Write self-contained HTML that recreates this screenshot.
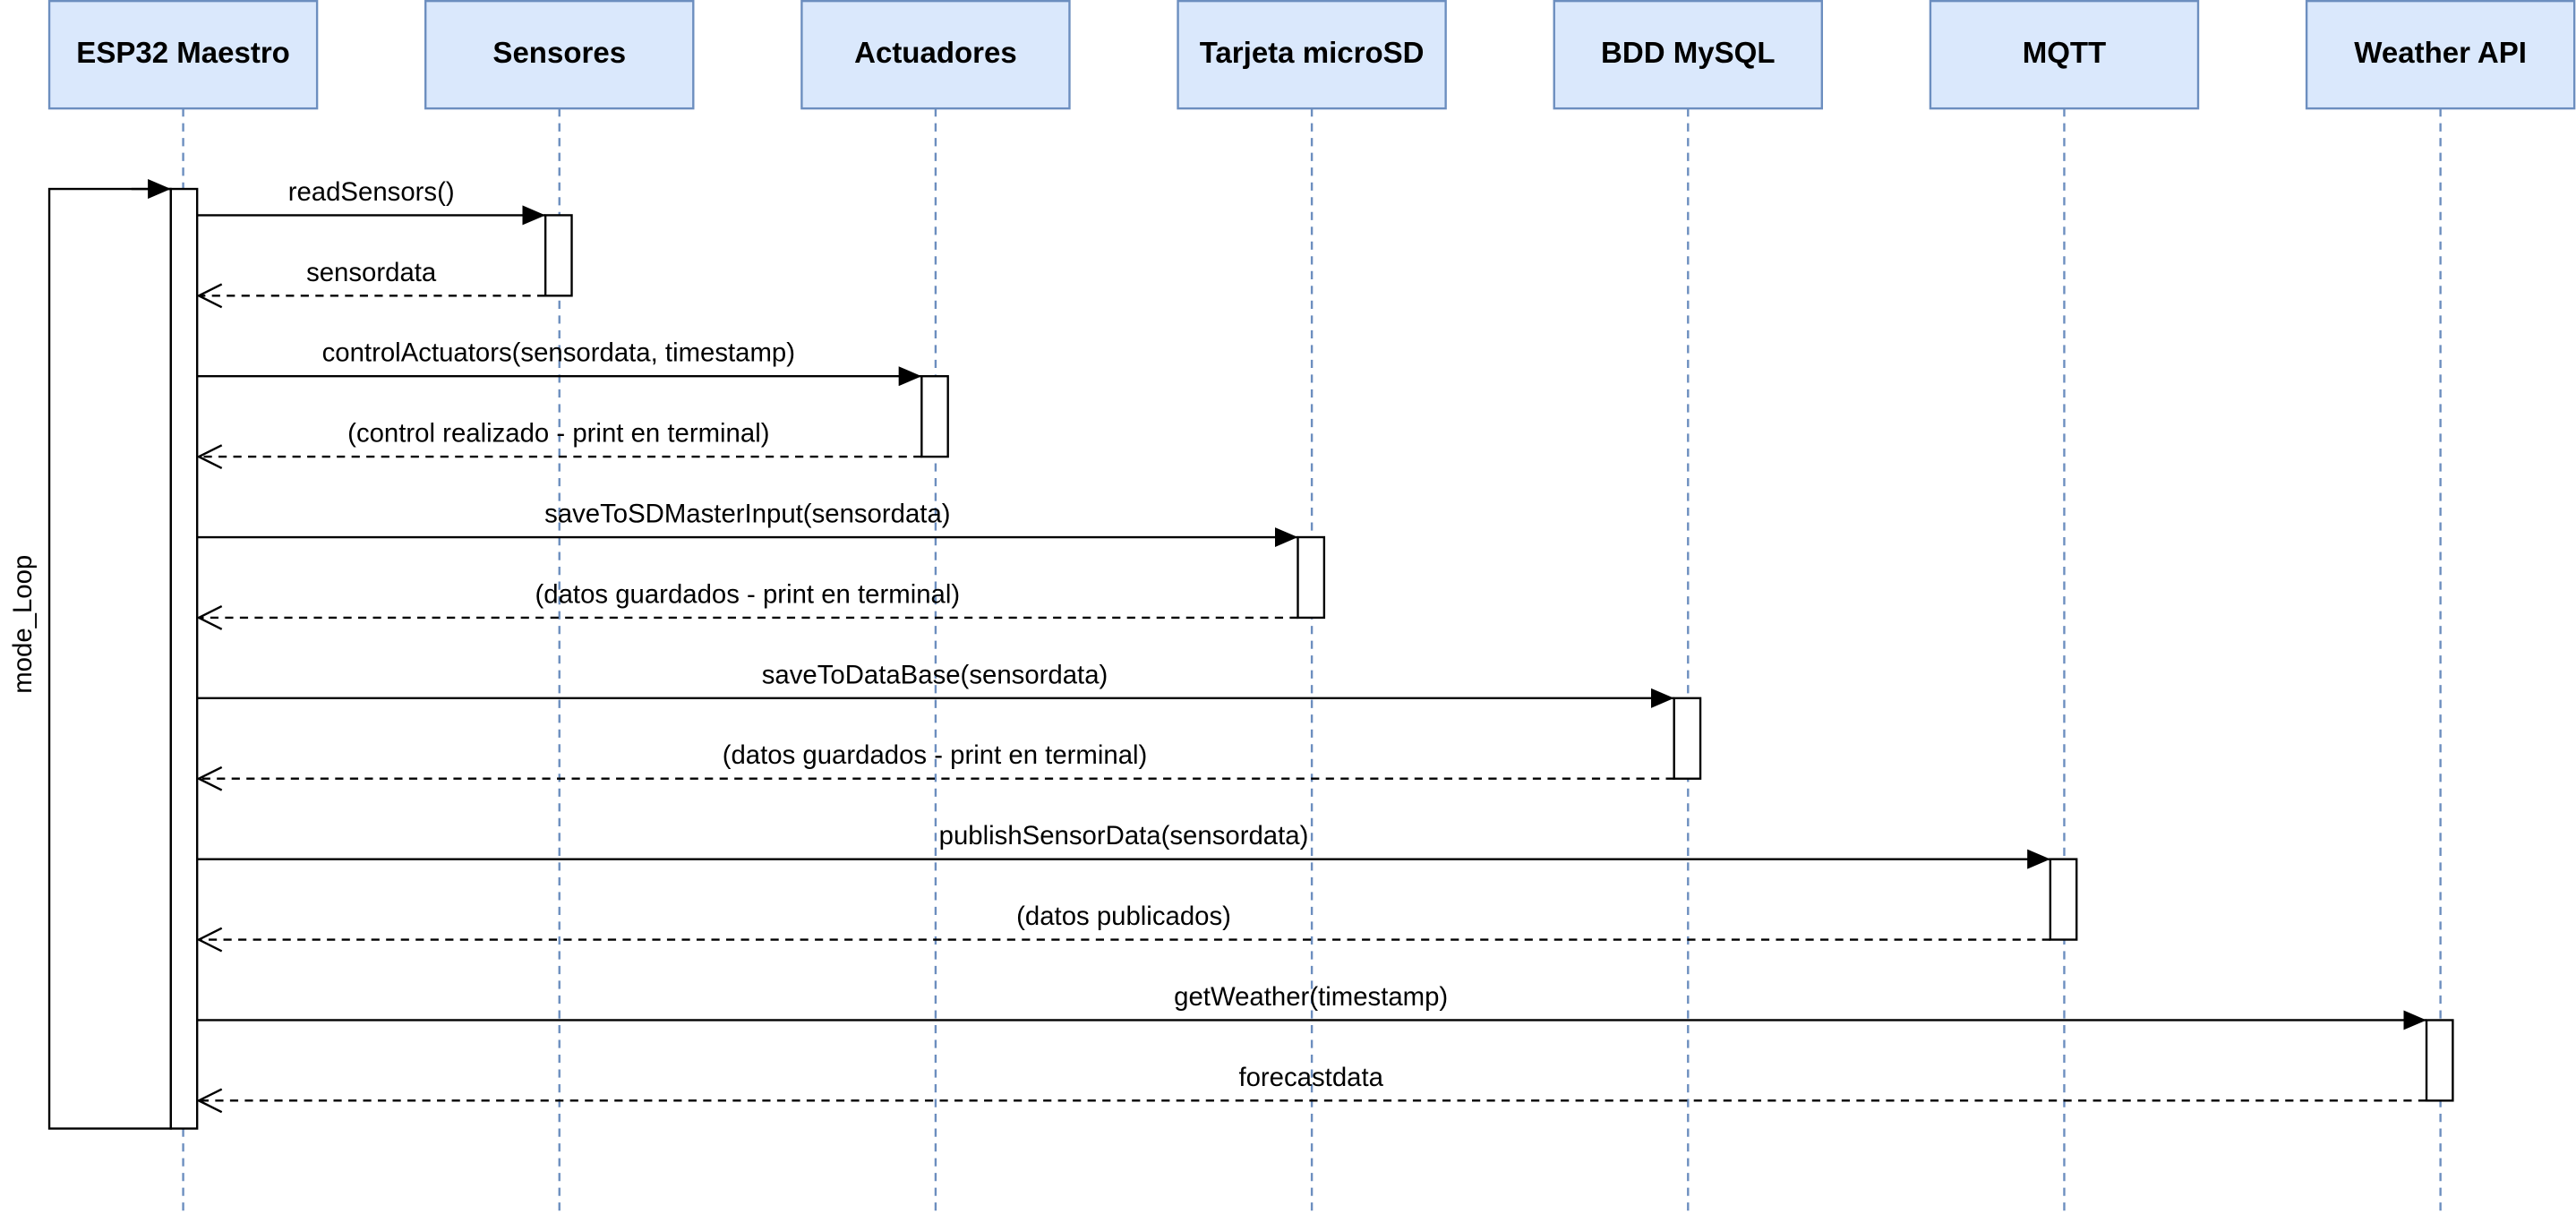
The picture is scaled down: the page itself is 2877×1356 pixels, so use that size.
<!DOCTYPE html>
<html><head><meta charset="utf-8"><style>html,body{margin:0;padding:0;background:#fff}svg{display:block}</style></head>
<body>
<svg width="2877" height="1356" viewBox="0 0 1568 739" xmlns="http://www.w3.org/2000/svg" font-family="Liberation Sans, Arial, sans-serif">
<defs>
<marker id="f" markerWidth="14" markerHeight="12" refX="14" refY="6" orient="auto" markerUnits="userSpaceOnUse"><path d="M0,0 L14,6 L0,12 Z" fill="#000"/></marker>
<marker id="o" markerWidth="16" markerHeight="16" refX="15" refY="8" orient="auto" markerUnits="userSpaceOnUse"><path d="M1,1 L15,8 L1,15" fill="none" stroke="#000" stroke-width="1.3"/></marker>
</defs>
<g stroke="#6c8ebf" stroke-width="1.3" stroke-dasharray="5,4">
<line x1="111.5" y1="66" x2="111.5" y2="739"/>
<line x1="340.5" y1="66" x2="340.5" y2="739"/>
<line x1="569.5" y1="66" x2="569.5" y2="739"/>
<line x1="798.5" y1="66" x2="798.5" y2="739"/>
<line x1="1027.5" y1="66" x2="1027.5" y2="739"/>
<line x1="1256.5" y1="66" x2="1256.5" y2="739"/>
<line x1="1485.5" y1="66" x2="1485.5" y2="739"/>
</g>
<g fill="#dae8fc" stroke="#6c8ebf" stroke-width="1.3">
<rect x="30" y="0.6" width="163" height="65.4"/>
<rect x="259" y="0.6" width="163" height="65.4"/>
<rect x="488" y="0.6" width="163" height="65.4"/>
<rect x="717" y="0.6" width="163" height="65.4"/>
<rect x="946" y="0.6" width="163" height="65.4"/>
<rect x="1175" y="0.6" width="163" height="65.4"/>
<rect x="1404" y="0.6" width="163" height="65.4"/>
</g>
<g font-weight="bold" font-size="18" text-anchor="middle" fill="#000">
<text x="111.5" y="38">ESP32 Maestro</text>
<text x="340.5" y="38">Sensores</text>
<text x="569.5" y="38">Actuadores</text>
<text x="798.5" y="38">Tarjeta microSD</text>
<text x="1027.5" y="38">BDD MySQL</text>
<text x="1256.5" y="38">MQTT</text>
<text x="1485.5" y="38">Weather API</text>
</g>
<g fill="#fff" stroke="#000" stroke-width="1.3">
<rect x="30" y="115" width="74" height="572"/>
<rect x="104" y="115" width="16" height="572"/>
<rect x="332" y="131" width="16" height="49"/>
<rect x="561" y="229" width="16" height="49"/>
<rect x="790" y="327" width="16" height="49"/>
<rect x="1019" y="425" width="16" height="49"/>
<rect x="1248" y="523" width="16" height="49"/>
<rect x="1477" y="621" width="16" height="49"/>
</g>
<line x1="80" y1="115" x2="104" y2="115" stroke="#000" stroke-width="1.3" marker-end="url(#f)"/>
<text transform="translate(19,380) rotate(-90)" font-size="16" text-anchor="middle">mode_Loop</text>
<g stroke="#000" stroke-width="1.3" fill="none">
<line x1="120" y1="131" x2="332" y2="131" marker-end="url(#f)"/>
<line x1="120" y1="229" x2="561" y2="229" marker-end="url(#f)"/>
<line x1="120" y1="327" x2="790" y2="327" marker-end="url(#f)"/>
<line x1="120" y1="425" x2="1019" y2="425" marker-end="url(#f)"/>
<line x1="120" y1="523" x2="1248" y2="523" marker-end="url(#f)"/>
<line x1="120" y1="621" x2="1477" y2="621" marker-end="url(#f)"/>
<g stroke-dasharray="5,4">
<line x1="332" y1="180" x2="121" y2="180" marker-end="url(#o)"/>
<line x1="561" y1="278" x2="121" y2="278" marker-end="url(#o)"/>
<line x1="790" y1="376" x2="121" y2="376" marker-end="url(#o)"/>
<line x1="1019" y1="474" x2="121" y2="474" marker-end="url(#o)"/>
<line x1="1248" y1="572" x2="121" y2="572" marker-end="url(#o)"/>
<line x1="1477" y1="670" x2="121" y2="670" marker-end="url(#o)"/>
</g>
</g>
<g font-size="16" text-anchor="middle" fill="#000">
<text x="226" y="122">readSensors()</text>
<text x="226" y="171">sensordata</text>
<text x="340" y="220">controlActuators(sensordata, timestamp)</text>
<text x="340" y="269">(control realizado - print en terminal)</text>
<text x="455" y="318">saveToSDMasterInput(sensordata)</text>
<text x="455" y="367">(datos guardados - print en terminal)</text>
<text x="569" y="416">saveToDataBase(sensordata)</text>
<text x="569" y="465">(datos guardados - print en terminal)</text>
<text x="684" y="514">publishSensorData(sensordata)</text>
<text x="684" y="563">(datos publicados)</text>
<text x="798" y="612">getWeather(timestamp)</text>
<text x="798" y="661">forecastdata</text>
</g>
</svg>
</body></html>
